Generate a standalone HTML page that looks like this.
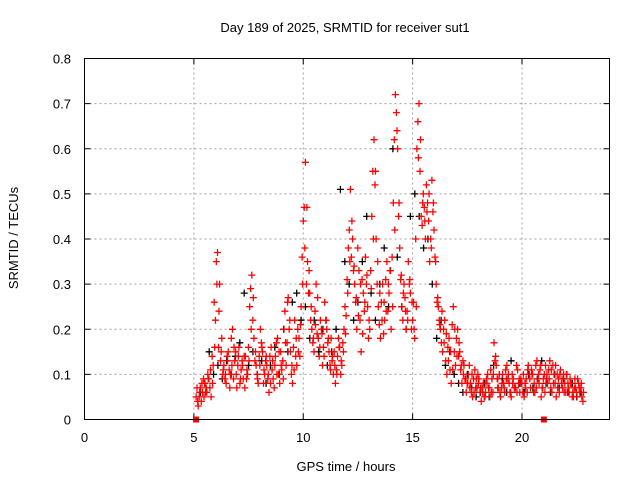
<!DOCTYPE html>
<html><head><meta charset="utf-8"><style>
html,body{margin:0;padding:0;background:#fff;}
svg{display:block;font-family:"Liberation Sans",sans-serif;}
</style></head><body>
<svg id="chart" width="640" height="480" xmlns="http://www.w3.org/2000/svg">
<rect width="640" height="480" fill="#fff"/>
<text x="345" y="32" font-size="13" text-anchor="middle">Day 189 of 2025, SRMTID for receiver sut1</text>
<text x="346" y="471" font-size="13" text-anchor="middle">GPS time / hours</text>
<text transform="translate(18,238) rotate(-90)" font-size="13" text-anchor="middle">SRMTID / TECUs</text>
<g id="grid"></g>
<g id="ticks"></g>
<g id="blackPts"></g>
<g id="redPts"></g>
<rect x="84.5" y="58.5" width="525" height="361" fill="none" stroke="#000" stroke-width="1"/>
</svg>
<script>
const xTicks=[0,5,10,15,20];
const yTicks=[0,0.1,0.2,0.3,0.4,0.5,0.6,0.7,0.8];
const yTickLabels=["0","0.1","0.2","0.3","0.4","0.5","0.6","0.7","0.8"];
const redStart=5.1, redStep=0.098;
const redA=[0.05,0.03,0.07,0.06,0.08,0.06,0.09,0.05,0.12,0.22,0.37,0.30,0.18,
0.12,0.08,0.15,0.10,0.20,0.13,0.07,0.16,0.11,0.09,
0.14,0.10,0.25,0.32,0.18,0.12,0.08,0.20,0.15,0.10,
0.12,0.06,0.16,0.09,0.14,0.18,0.08,0.11,0.20,0.12,
0.27,0.15,0.08,0.22,0.12,0.18,0.25,0.44,0.57,0.35,
0.28,0.20,0.15,0.30,0.18,0.22,0.12,0.26,0.20,0.15,
0.18,0.10,0.08,0.14,0.16,0.12,0.20,0.23,0.38,0.51,
0.40,0.30,0.20,0.33,0.15,0.28,0.36,0.25,0.20,0.45,
0.62,0.40,0.25,0.18,0.30,0.22,0.35,0.28,0.20,0.48,
0.72,0.60,0.38,0.25,0.30,0.20,0.35,0.28,0.22,0.18,
0.60,0.70,0.45,0.50,0.40,0.48,0.35,0.53,0.42,0.30,
0.25,0.20,0.15,0.22,0.10,0.18,0.08,0.25,0.12,0.20,
0.15,0.08,0.12,0.06,0.10,0.08,0.05,0.11,0.07,0.09,
0.04,0.08,0.06,0.10,0.05,0.09,0.17,0.12,0.07,0.05,
0.10,0.06,0.12,0.08,0.05,0.09,0.07,0.11,0.06,0.08,
0.05,0.09,0.12,0.07,0.10,0.06,0.13,0.08,0.05,0.09,
0.12,0.08,0.13,0.06,0.10,0.05,0.09,0.11,0.07,0.08,
0.10,0.06,0.08,0.05,0.07,0.09,0.06,0.05];
const redB=[0.07,0.05,0.04,0.09,0.06,0.10,0.07,0.14,0.26,0.35,0.16,0.13,0.10,
0.09,0.14,0.11,0.18,0.09,0.15,0.12,0.08,0.13,0.14,
0.09,0.16,0.29,0.22,0.13,0.10,0.14,0.17,0.08,0.13,
0.09,0.14,0.11,0.07,0.17,0.10,0.15,0.13,0.24,0.17,
0.20,0.10,0.16,0.14,0.20,0.14,0.36,0.47,0.30,0.28,
0.22,0.17,0.24,0.19,0.14,0.20,0.16,0.22,0.17,0.12,
0.13,0.15,0.11,0.18,0.10,0.17,0.25,0.31,0.42,0.36,
0.33,0.26,0.38,0.22,0.31,0.24,0.30,0.18,0.33,0.55,
0.52,0.30,0.21,0.26,0.19,0.31,0.24,0.33,0.36,0.62,
0.68,0.45,0.31,0.22,0.27,0.24,0.30,0.20,0.26,0.40,
0.66,0.55,0.43,0.47,0.52,0.44,0.40,0.46,0.36,0.26,
0.22,0.17,0.20,0.13,0.16,0.11,0.21,0.15,0.18,0.14,
0.11,0.13,0.09,0.08,0.12,0.06,0.09,0.07,0.10,0.06,
0.07,0.05,0.09,0.07,0.11,0.06,0.13,0.09,0.10,0.07,
0.08,0.11,0.09,0.06,0.10,0.07,0.12,0.08,0.09,0.06,
0.08,0.06,0.10,0.11,0.06,0.12,0.09,0.11,0.07,0.10,
0.09,0.11,0.07,0.12,0.08,0.10,0.06,0.08,0.10,0.06,
0.08,0.09,0.05,0.07,0.06,0.08,0.07,0.04];
const redC=[0.04,0.06,0.08,0.05,0.07,0.09,0.11,0.08,0.16,0.30,0.24,0.15,0.11,
0.10,0.13,0.07,0.12,0.16,0.10,0.14,0.09,0.12,0.07,
0.11,0.13,0.20,0.27,0.15,0.09,0.12,0.16,0.11,0.14,
0.10,0.08,0.13,0.12,0.10,0.15,0.12,0.09,0.17,0.26,
0.22,0.12,0.11,0.18,0.15,0.21,0.30,0.38,0.47,0.33,
0.25,0.18,0.21,0.27,0.16,0.19,0.14,0.22,0.18,0.11,
0.14,0.12,0.10,0.16,0.13,0.15,0.19,0.28,0.35,0.44,
0.34,0.27,0.23,0.30,0.19,0.26,0.32,0.22,0.29,0.40,
0.55,0.35,0.28,0.22,0.26,0.24,0.30,0.33,0.25,0.42,
0.64,0.48,0.32,0.28,0.24,0.22,0.31,0.26,0.20,0.25,
0.58,0.62,0.48,0.44,0.46,0.50,0.38,0.48,0.35,0.27,
0.21,0.24,0.17,0.19,0.13,0.15,0.11,0.20,0.14,0.17,
0.12,0.10,0.09,0.08,0.07,0.10,0.06,0.09,0.08,0.07,
0.06,0.05,0.08,0.07,0.06,0.10,0.14,0.09,0.06,0.08,
0.07,0.09,0.10,0.06,0.08,0.07,0.06,0.09,0.08,0.10,
0.07,0.11,0.09,0.10,0.08,0.07,0.10,0.12,0.07,0.06,
0.10,0.09,0.11,0.08,0.12,0.07,0.10,0.09,0.06,0.10,
0.07,0.08,0.06,0.09,0.05,0.07,0.08,0.06];
const blkStart=5.3, blkStep=0.2;
const blk=[0.06,0.08,0.15,0.10,
0.12,0.09,0.13,0.10,0.14,
0.17,0.28,0.12,0.15,0.10,
0.13,0.08,0.12,0.16,0.10,
0.20,0.15,0.26,0.28,0.22,
0.25,0.18,0.22,0.15,0.20,
0.12,0.15,0.20,0.51,0.35,
0.30,0.22,0.26,0.35,0.45,
0.28,0.22,0.30,0.38,0.25,
0.60,0.36,0.25,0.20,0.45,
0.50,0.45,0.38,0.40,0.30,
0.18,0.22,0.12,0.15,0.10,
0.08,0.06,0.10,0.07,0.05,
0.06,0.08,0.05,0.12,0.07,
0.09,0.06,0.13,0.07,0.08,
0.06,0.10,0.07,0.09,0.13,
0.08,0.06,0.10,0.07,0.09,
0.06,0.08,0.05,0.06];
const squares=[5.1,21.0];

const X0=84.5,X1=609.5,Y0=419.5,Y1=58.5,XMAX=24,YMAX=0.8;
const sx=v=>X0+(X1-X0)*v/XMAX;
const sy=v=>Y0-(Y0-Y1)*v/YMAX;
const NS="http://www.w3.org/2000/svg";
function mk(tag,attrs,parent){const e=document.createElementNS(NS,tag);for(const k in attrs)e.setAttribute(k,attrs[k]);parent.appendChild(e);return e;}
const grid=document.getElementById('grid'),ticks=document.getElementById('ticks');
const svg=document.getElementById('chart');
xTicks.forEach(t=>{
  if(t>0){const g=mk('line',{x1:sx(t),x2:sx(t),y1:Y0,y2:Y1,stroke:'#a0a0a0','stroke-dasharray':'2,3'},grid);
  
  }
  mk('line',{x1:sx(t),x2:sx(t),y1:Y0,y2:Y0-6,stroke:'#000'},ticks);
  mk('line',{x1:sx(t),x2:sx(t),y1:Y1,y2:Y1+6,stroke:'#000'},ticks);
  const l=mk('text',{x:sx(t),y:442,'font-size':13,'text-anchor':'middle'},svg);
  l.textContent=String(t);
  
  
});
yTicks.forEach((t,i)=>{
  if(t>0&&t<YMAX){const g=mk('line',{x1:X0,x2:X1,y1:sy(t),y2:sy(t),stroke:'#a0a0a0','stroke-dasharray':'2,3'},grid);
  
  }
  mk('line',{x1:X0,x2:X0+6,y1:sy(t),y2:sy(t),stroke:'#000'},ticks);
  mk('line',{x1:X1,x2:X1-6,y1:sy(t),y2:sy(t),stroke:'#000'},ticks);
  const l=mk('text',{x:71,y:sy(t)+5,'font-size':13,'text-anchor':'end'},svg);
  l.textContent=yTickLabels[i];
  
  
});
function plus(g,x,y,c){
  const p=mk('path',{d:`M${(x-3.5).toFixed(1)} ${y.toFixed(1)}h7M${x.toFixed(1)} ${(y-3.5).toFixed(1)}v7`,stroke:c,'stroke-width':1.3,fill:'none'},g);
  
  
}
const bg=document.getElementById('blackPts'),rg=document.getElementById('redPts');
blk.forEach((v,i)=>plus(bg,sx(blkStart+i*blkStep),sy(v),'#000'));
redA.forEach((v,i)=>plus(rg,sx(redStart+i*redStep),sy(v),'#f00'));
redB.forEach((v,i)=>plus(rg,sx(redStart+0.045+i*redStep),sy(v),'#f00'));
redC.forEach((v,i)=>plus(rg,sx(redStart+0.07+i*redStep),sy(v),'#f00'));
squares.forEach(t=>{
  const r=mk('rect',{x:sx(t)-3,y:Y0-3,width:6,height:6,fill:'#f00'},rg);
  
  
});
</script>
</body></html>
